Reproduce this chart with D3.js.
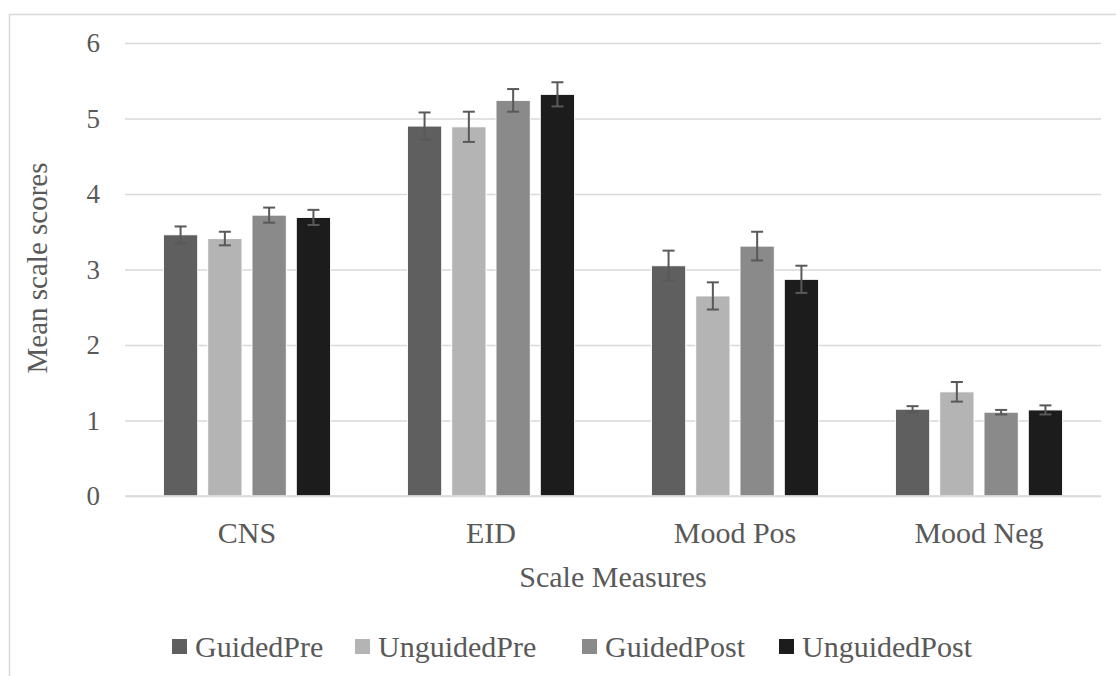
<!DOCTYPE html>
<html>
<head>
<meta charset="utf-8">
<script src="https://cdn.jsdelivr.net/npm/d3@7"></script>
<style>
  html, body { margin: 0; padding: 0; background: #fff; }
  svg { display: block; }
</style>
</head>
<body>
<svg id="chart" width="1116" height="676"></svg>
<script>
const categories = ["CNS", "EID", "Mood Pos", "Mood Neg"];
const seriesNames = ["GuidedPre", "UnguidedPre", "GuidedPost", "UnguidedPost"];
const seriesColors = ["#5f5f5f", "#b4b4b4", "#8a8a8a", "#1c1c1c"];
const guidedPre = [3.46, 4.90, 3.05, 1.15];
const unguidedPre = [3.41, 4.89, 2.65, 1.38];
const guidedPost = [3.72, 5.24, 3.31, 1.11];
const unguidedPost = [3.69, 5.32, 2.87, 1.14];
const guidedPreErr = [0.11, 0.18, 0.20, 0.04];
const unguidedPreErr = [0.09, 0.20, 0.18, 0.13];
const guidedPostErr = [0.10, 0.15, 0.19, 0.03];
const unguidedPostErr = [0.10, 0.16, 0.18, 0.06];
const yTicks = [0, 1, 2, 3, 4, 5, 6];
const xTitle = "Scale Measures";
const yTitle = "Mean scale scores";

const values = [guidedPre, unguidedPre, guidedPost, unguidedPost];
const errors = [guidedPreErr, unguidedPreErr, guidedPostErr, unguidedPostErr];

const FONT = "Liberation Serif";
const TXT = "#595959";
const svg = d3.select("#chart");
const mLeft = 125, mRight = 1101, mTop = 43, mBottom = 496;

// outer chart border
svg.append("rect").attr("x", 9.5).attr("y", 14.5).attr("width", 1120).attr("height", 700)
  .attr("fill", "none").attr("stroke", "#d9d9d9").attr("stroke-width", 1.5);

const y = d3.scaleLinear().domain([0, 6]).range([mBottom, mTop]);
const x0 = d3.scaleBand().domain(categories).range([mLeft, mRight]).paddingInner(0.3148).paddingOuter(0.1574);
const x1 = d3.scaleBand().domain(seriesNames).range([0, x0.bandwidth()]).paddingInner(0.225).paddingOuter(0);
const color = d3.scaleOrdinal().domain(seriesNames).range(seriesColors);

// gridlines + y tick labels
const yAxis = d3.axisLeft(y).tickValues(yTicks).tickSize(-(mRight - mLeft)).tickPadding(25).tickFormat(d3.format("d"));
const gy = svg.append("g").attr("transform", `translate(${mLeft},0)`).call(yAxis)
  .attr("font-family", FONT);
gy.select(".domain").remove();
gy.selectAll(".tick line").attr("stroke", "#d9d9d9").attr("stroke-width", 1.5);
gy.selectAll(".tick text").attr("font-size", 27).attr("fill", TXT).attr("font-family", FONT);

// bars
const data = [];
categories.forEach((c, ci) => {
  seriesNames.forEach((s, si) => {
    data.push({ cat: c, ser: s, v: values[si][ci], e: errors[si][ci] });
  });
});

const g = svg.append("g");
g.selectAll("rect.bar").data(data).enter().append("rect")
  .attr("class", "bar")
  .attr("x", d => x0(d.cat) + x1(d.ser))
  .attr("y", d => y(d.v))
  .attr("width", x1.bandwidth())
  .attr("height", d => y(0) - y(d.v))
  .attr("fill", d => color(d.ser))
  .attr("stroke", "#ffffff").attr("stroke-width", 1);

// error bars
const eb = g.selectAll("g.err").data(data).enter().append("g").attr("class", "err")
  .attr("stroke", "#595959").attr("stroke-width", 2);
const cx = d => x0(d.cat) + x1(d.ser) + x1.bandwidth() / 2;
eb.append("line").attr("x1", cx).attr("x2", cx).attr("y1", d => y(d.v + d.e)).attr("y2", d => y(d.v - d.e));
eb.append("line").attr("x1", d => cx(d) - 6).attr("x2", d => cx(d) + 6).attr("y1", d => y(d.v + d.e)).attr("y2", d => y(d.v + d.e));
eb.append("line").attr("x1", d => cx(d) - 6).attr("x2", d => cx(d) + 6).attr("y1", d => y(d.v - d.e)).attr("y2", d => y(d.v - d.e));

// baseline
svg.append("line").attr("x1", mLeft).attr("x2", mRight).attr("y1", y(0)).attr("y2", y(0))
  .attr("stroke", "#d9d9d9").attr("stroke-width", 1.5);

// x axis category labels
const xAxis = d3.axisBottom(x0).tickSize(0).tickPadding(0);
const gx = svg.append("g").attr("transform", `translate(0,${mBottom})`).call(xAxis)
  .attr("font-family", FONT);
gx.select(".domain").remove();
gx.selectAll(".tick text").attr("font-size", 30).attr("fill", TXT).attr("dy", null).attr("y", 47)
  .attr("font-family", FONT);

// axis titles
svg.append("text").attr("x", (mLeft + mRight) / 2).attr("y", 587).attr("text-anchor", "middle")
  .attr("font-family", FONT).attr("fill", TXT).attr("font-size", 30).text(xTitle);
svg.append("text").attr("transform", `translate(47,268) rotate(-90)`).attr("text-anchor", "middle")
  .attr("font-family", FONT).attr("fill", TXT).attr("font-size", 29).text(yTitle);

// legend
const legendX = [172, 355, 582, 779];
const lg = svg.append("g").selectAll("g").data(seriesNames).enter().append("g")
  .attr("transform", (d, i) => `translate(${legendX[i]},639)`);
lg.append("rect").attr("width", 15).attr("height", 15).attr("fill", d => color(d));
lg.append("text").attr("x", 23).attr("y", 18).attr("font-size", 30)
  .attr("font-family", FONT).attr("fill", TXT).text(d => d);
</script>
</body>
</html>
